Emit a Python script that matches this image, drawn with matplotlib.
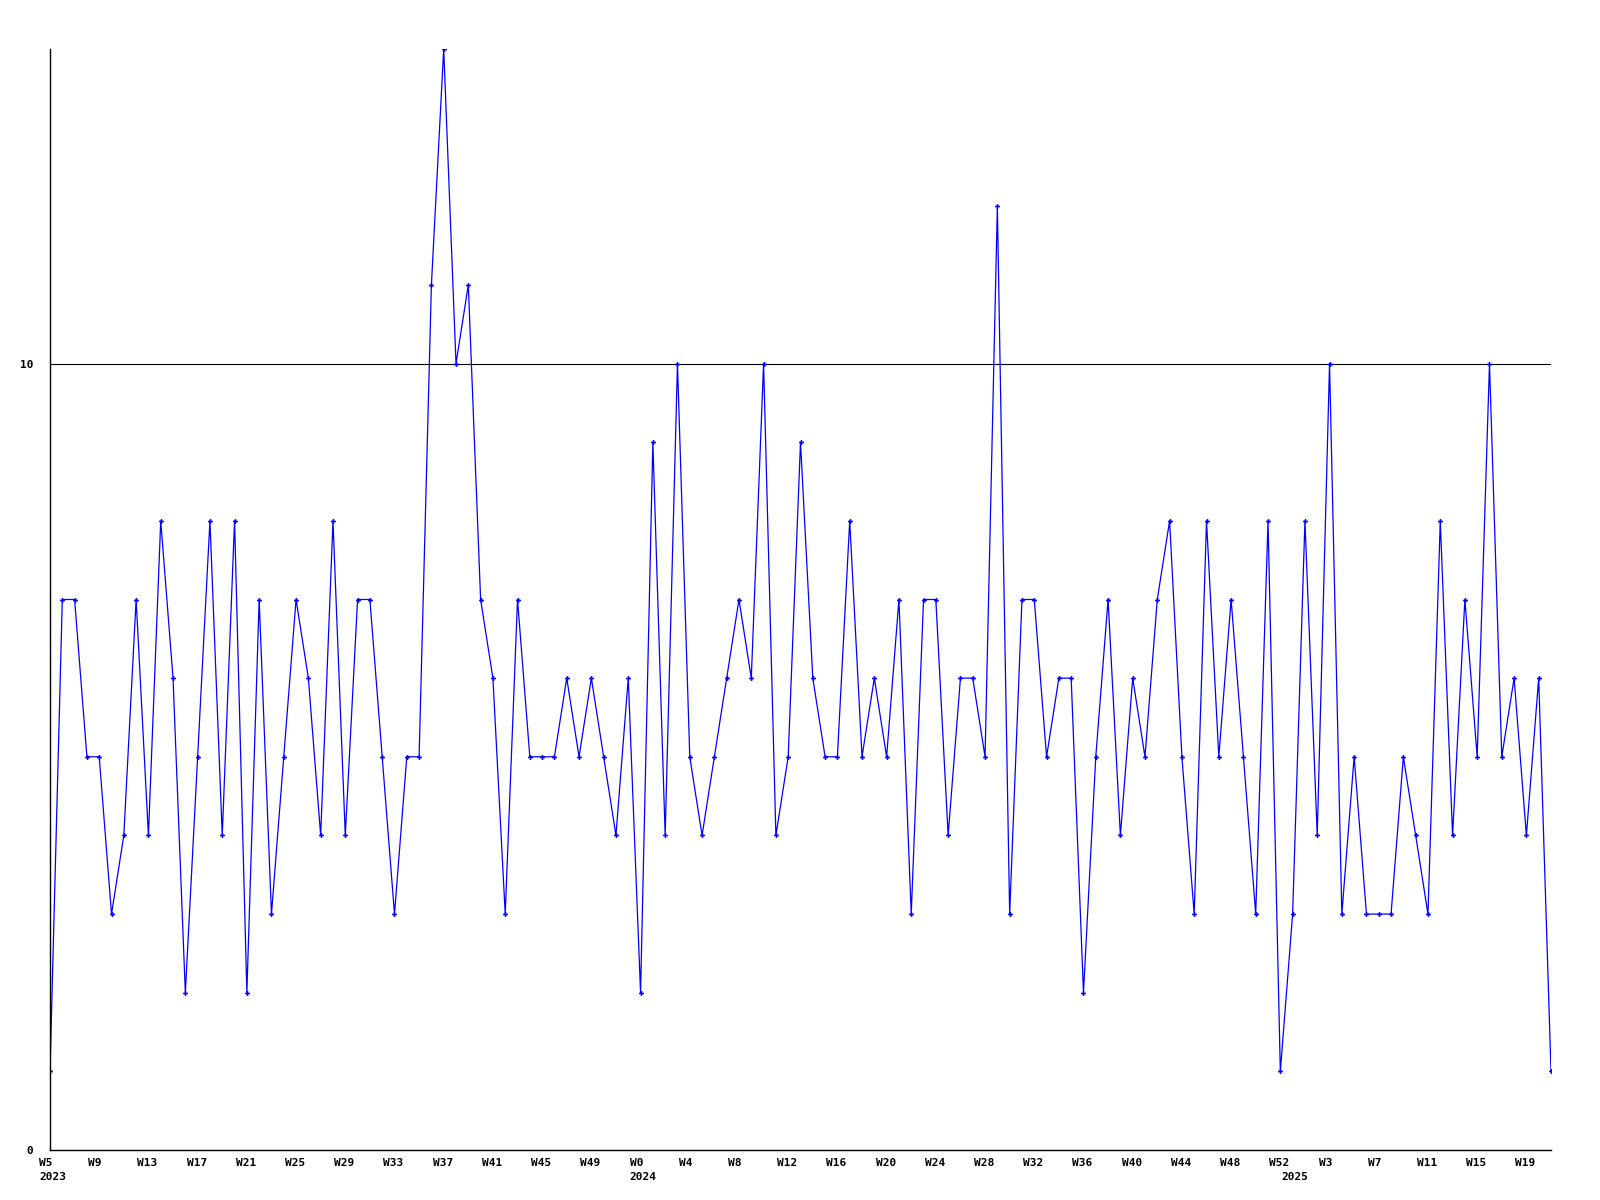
import matplotlib
matplotlib.use('Agg')
import matplotlib.pyplot as plt
import matplotlib.transforms as mtransforms

# weekly counts, W5 2023 .. W21 2025
counts = [1, 7, 7, 5, 5, 3, 4, 7, 4, 8,
          6, 2, 5, 8, 4, 8, 2, 7, 3, 5,
          7, 6, 4, 8, 4, 7, 7, 5, 3, 5,
          5, 11, 14, 10, 11, 7, 6, 3, 7, 5,
          5, 5, 6, 5, 6, 5, 4, 6, 2, 9,
          4, 10, 5, 4, 5, 6, 7, 6, 10, 4,
          5, 9, 6, 5, 5, 8, 5, 6, 5, 7,
          3, 7, 7, 4, 6, 6, 5, 12, 3, 7,
          7, 5, 6, 6, 2, 5, 7, 4, 6, 5,
          7, 8, 5, 3, 8, 5, 7, 5, 3, 8,
          1, 3, 8, 4, 10, 3, 5, 3, 3, 3,
          5, 4, 3, 8, 4, 7, 5, 10, 5, 6,
          4, 6, 1]

years = [2023, 2024, 2025]
first_week = [5, 0, 0]
last_week = [52, 52, 21]

week_labels = []
year_start = []
for y, a, b in zip(years, first_week, last_week):
    year_start.append(len(week_labels))
    for w in range(a, b + 1):
        week_labels.append(f"W{w}")

x = list(range(len(counts)))
font = dict(family='DejaVu Sans Mono', weight='bold', size=8)

fig = plt.figure(figsize=(16, 12), dpi=100)
ax = fig.add_axes([50 / 1600, 50 / 1200, 1501 / 1600, 1101 / 1200])

ax.plot(x, counts, color='#0000ff', lw=0.9, marker='P', ms=3.5, mew=0)
ax.axhline(10, color='black', lw=0.8, zorder=0)

ax.set_xlim(0, len(counts) - 1)
ax.set_ylim(0, 14)

ax.spines['top'].set_visible(False)
ax.spines['right'].set_visible(False)
ax.spines['left'].set_linewidth(1)
ax.spines['bottom'].set_linewidth(1)

ax.set_yticks([0, 10])
ax.set_yticklabels(['0', '10'], fontdict=font)
ticks = x[::4]
ax.set_xticks(ticks)
ax.set_xticklabels([week_labels[i] for i in ticks], fontdict=font, ha='left')
ax.tick_params(axis='y', length=0, pad=12)
ax.tick_params(axis='x', length=0, pad=6)

# labels start a bit left of their week
shift = mtransforms.ScaledTranslation(-11 / 100, 0, fig.dpi_scale_trans)
for lab in ax.get_xticklabels():
    lab.set_transform(lab.get_transform() + shift)

for y, i in zip(years, year_start):
    ax.annotate(str(y), xy=(i, 0), xycoords=('data', 'axes fraction'),
                xytext=(-11, -22), textcoords='offset pixels',
                ha='left', va='top', **font)

fig.savefig('out.png', dpi=100, facecolor='white')
